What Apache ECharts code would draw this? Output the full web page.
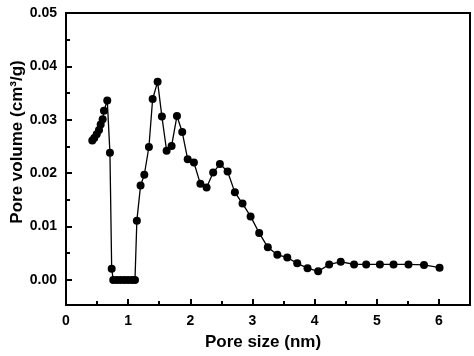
<!DOCTYPE html>
<html>
<head>
<meta charset="utf-8">
<script src="https://cdn.jsdelivr.net/npm/echarts@6/dist/echarts.min.js"></script>
<style>html,body{margin:0;padding:0;background:#fff}#c{width:474px;height:356px}</style>
</head>
<body>
<div id="c"></div>
<script>
var poreSize = [0.423,0.455,0.494,0.531,0.558,0.590,0.611,0.664,0.707,0.735,
  0.76,0.82,0.88,0.94,1.00,1.06,1.11,
  1.14,1.20,1.26,1.334,1.394,1.474,1.543,1.619,1.699,1.785,1.87,1.958,2.058,2.162,2.262,2.368,2.476,2.60,2.717,2.84,2.97,3.108,3.247,3.40,3.56,3.72,3.886,4.057,4.234,4.42,4.635,4.83,5.05,5.27,5.51,5.76,6.01];
var poreVolume = [0.0261,0.0266,0.0273,0.0281,0.0291,0.0301,0.0317,0.0336,0.0238,0.0021,
  0,0,0,0,0,0,0,
  0.0111,0.0177,0.0197,0.0249,0.0339,0.0371,0.0306,0.0242,0.0251,0.0307,0.0277,0.0226,0.0220,0.0180,0.0173,0.0201,0.0217,0.0203,0.0164,0.0143,0.0119,0.0088,0.0061,0.0047,0.0042,0.0031,0.0022,0.0016,0.0029,0.0034,0.0029,0.0029,0.0029,0.0029,0.0029,0.0028,0.0023];
var xMajorTicks = [0,1,2,3,4,5,6];
var xMinorTicks = [0.5,1.5,2.5,3.5,4.5,5.5];
var yMajorTicks = [0,0.01,0.02,0.03,0.04,0.05];
var yMinorTicks = [0.005,0.015,0.025,0.035,0.045];
var xTitle = 'Pore size (nm)';
var yTitle = 'Pore volume (cm³/g)';

var FONT = '"Liberation Sans", Arial, sans-serif';
var chart = echarts.init(document.getElementById('c'), null, {renderer:'canvas'});
var data = poreSize.map(function(x,i){return [x, poreVolume[i]];});
var axisCommon = {
  type:'value', splitLine:{show:false}
};
chart.setOption({
  animation:false,
  backgroundColor:'#fff',
  grid:{left:66, right:4, top:13, bottom:51, show:true, borderColor:'#000', borderWidth:2, backgroundColor:'transparent'},
  xAxis:[
    Object.assign({}, axisCommon, {min:0, max:6.5, position:'bottom',
      axisLine:{show:true, onZero:false, lineStyle:{color:'#000', width:2}},
      axisTick:{show:true, inside:true, length:6, customValues:xMajorTicks, lineStyle:{color:'#000', width:2}},
      axisLabel:{show:true, customValues:xMajorTicks, margin:9, color:'#000', fontSize:14, fontWeight:'bold', fontFamily:FONT}
    }),
    Object.assign({}, axisCommon, {min:0, max:6.5, position:'bottom',
      axisLine:{show:false, onZero:false},
      axisTick:{show:true, inside:true, length:4, customValues:xMinorTicks, lineStyle:{color:'#000', width:2}},
      axisLabel:{show:false}
    })
  ],
  yAxis:[
    Object.assign({}, axisCommon, {min:-0.0047, max:0.05, position:'left',
      axisLine:{show:true, onZero:false, lineStyle:{color:'#000', width:2}},
      axisTick:{show:true, inside:true, length:6, customValues:yMajorTicks, lineStyle:{color:'#000', width:2}},
      axisLabel:{show:true, customValues:yMajorTicks, margin:9, color:'#000', fontSize:14, fontWeight:'bold', fontFamily:FONT,
        formatter:function(v){return v.toFixed(2);}}
    }),
    Object.assign({}, axisCommon, {min:-0.0047, max:0.05, position:'left',
      axisLine:{show:false, onZero:false},
      axisTick:{show:true, inside:true, length:4, customValues:yMinorTicks, lineStyle:{color:'#000', width:2}},
      axisLabel:{show:false}
    })
  ],
  graphic:[
    {type:'text', x:263, y:342, style:{text:xTitle, fill:'#000', font:'bold 17px '+FONT, textAlign:'center', textVerticalAlign:'middle'}},
    {type:'text', x:17, y:142, rotation:Math.PI/2, style:{text:yTitle, fill:'#000', font:'bold 17px '+FONT, textAlign:'center', textVerticalAlign:'middle'}}
  ],
  series:[{
    type:'line', xAxisIndex:0, yAxisIndex:0, data:data,
    symbol:'circle', symbolSize:8, showSymbol:true,
    itemStyle:{color:'#000'}, lineStyle:{color:'#000', width:1.3}
  }]
});
</script>
</body>
</html>
